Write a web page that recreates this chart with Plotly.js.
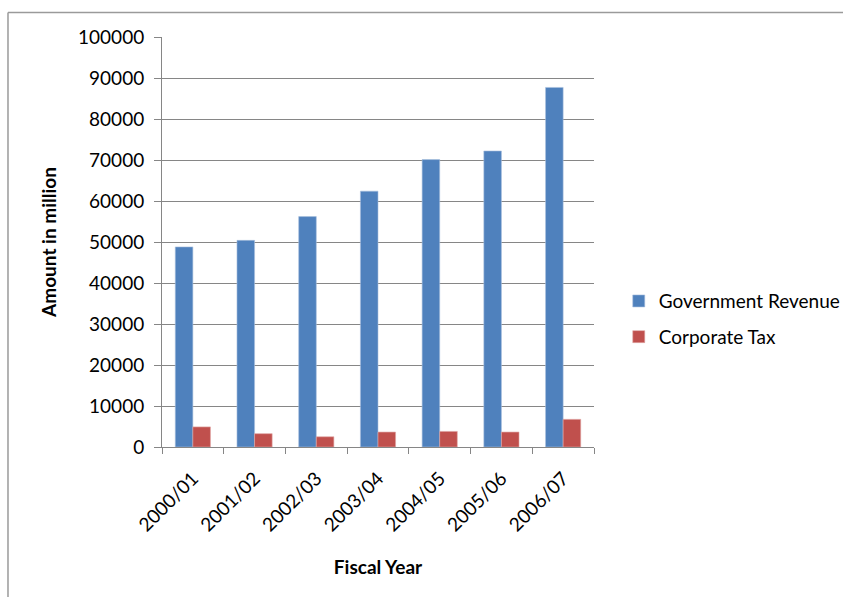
<!DOCTYPE html>
<html>
<head>
<meta charset="utf-8">
<script src="https://cdn.plot.ly/plotly-3.0.1.min.js"></script>
<style>html,body{margin:0;padding:0;background:#fff;}#chart{width:843px;height:597px;}</style>
</head>
<body>
<div id="chart"></div>
<script>
const categories = ["2000/01","2001/02","2002/03","2003/04","2004/05","2005/06","2006/07"];
const governmentRevenue = [48800, 50400, 56200, 62400, 70100, 72200, 87700];
const corporateTax = [4900, 3250, 2500, 3650, 3800, 3650, 6750];
const yTicks = [0,10000,20000,30000,40000,50000,60000,70000,80000,90000,100000];

const font = "Lato, 'Open Sans', sans-serif";
const grey = "#868686";

const data = [
  {type:"bar", name:"Government Revenue", legendgroup:"a", x:categories, y:governmentRevenue,
   marker:{color:"#4F81BD", line:{color:"#A7C0DE", width:0.6}}},
  {type:"bar", name:"Corporate Tax", legendgroup:"b", x:categories, y:corporateTax,
   marker:{color:"#C0504D", line:{color:"#E0A8A6", width:0.6}}}
];

const layout = {
  width:843, height:597,
  margin:{l:162, r:249, t:37, b:150, autoexpand:false},
  paper_bgcolor:"#fff", plot_bgcolor:"#fff",
  font:{family:font, size:19, color:"#000"},
  barmode:"group", bargap:0.43, bargroupgap:0,
  showlegend:true,
  legend:{xref:"container", x:0.734, xanchor:"left", y:0.312, yanchor:"middle", traceorder:"grouped",
          font:{family:font, size:19, color:"#000"}, tracegroupgap:8, itemwidth:30},
  xaxis:{
    type:"category",
    showline:true, linecolor:grey, linewidth:1,
    ticks:"outside", tickson:"boundaries", ticklen:6, tickcolor:grey, ticklabelstandoff:12,
    tickangle:-45, tickfont:{family:font, size:19, color:"#000"},
    title:{text:"<b>Fiscal Year</b>", font:{family:font, size:19, color:"#000"}, standoff:26},
    automargin:false
  },
  yaxis:{
    range:[0,100000], tickvals:yTicks, ticktext:yTicks.map(String),
    showline:true, linecolor:grey, linewidth:1,
    showgrid:true, gridcolor:grey, gridwidth:1,
    ticks:"outside", ticklen:7, tickcolor:grey, ticklabelstandoff:6,
    tickfont:{family:font, size:19, color:"#000"},
    title:{text:"<b>Amount in million</b>", font:{family:font, size:19, color:"#000"}, standoff:16},
    zeroline:false, automargin:false
  },
  shapes:[
    {type:"line", xref:"paper", yref:"paper", x0:-0.3565, x1:-0.3565, y0:1.06, y1:-0.4, line:{color:"#9a9a9a", width:1.5}},
    {type:"line", xref:"paper", yref:"paper", x0:-0.3565, x1:1.7, y0:1.06, y1:1.06, line:{color:"#9a9a9a", width:1.5}}
  ]
};

Plotly.newPlot("chart", data, layout, {displayModeBar:false, staticPlot:true});
</script>
</body>
</html>
